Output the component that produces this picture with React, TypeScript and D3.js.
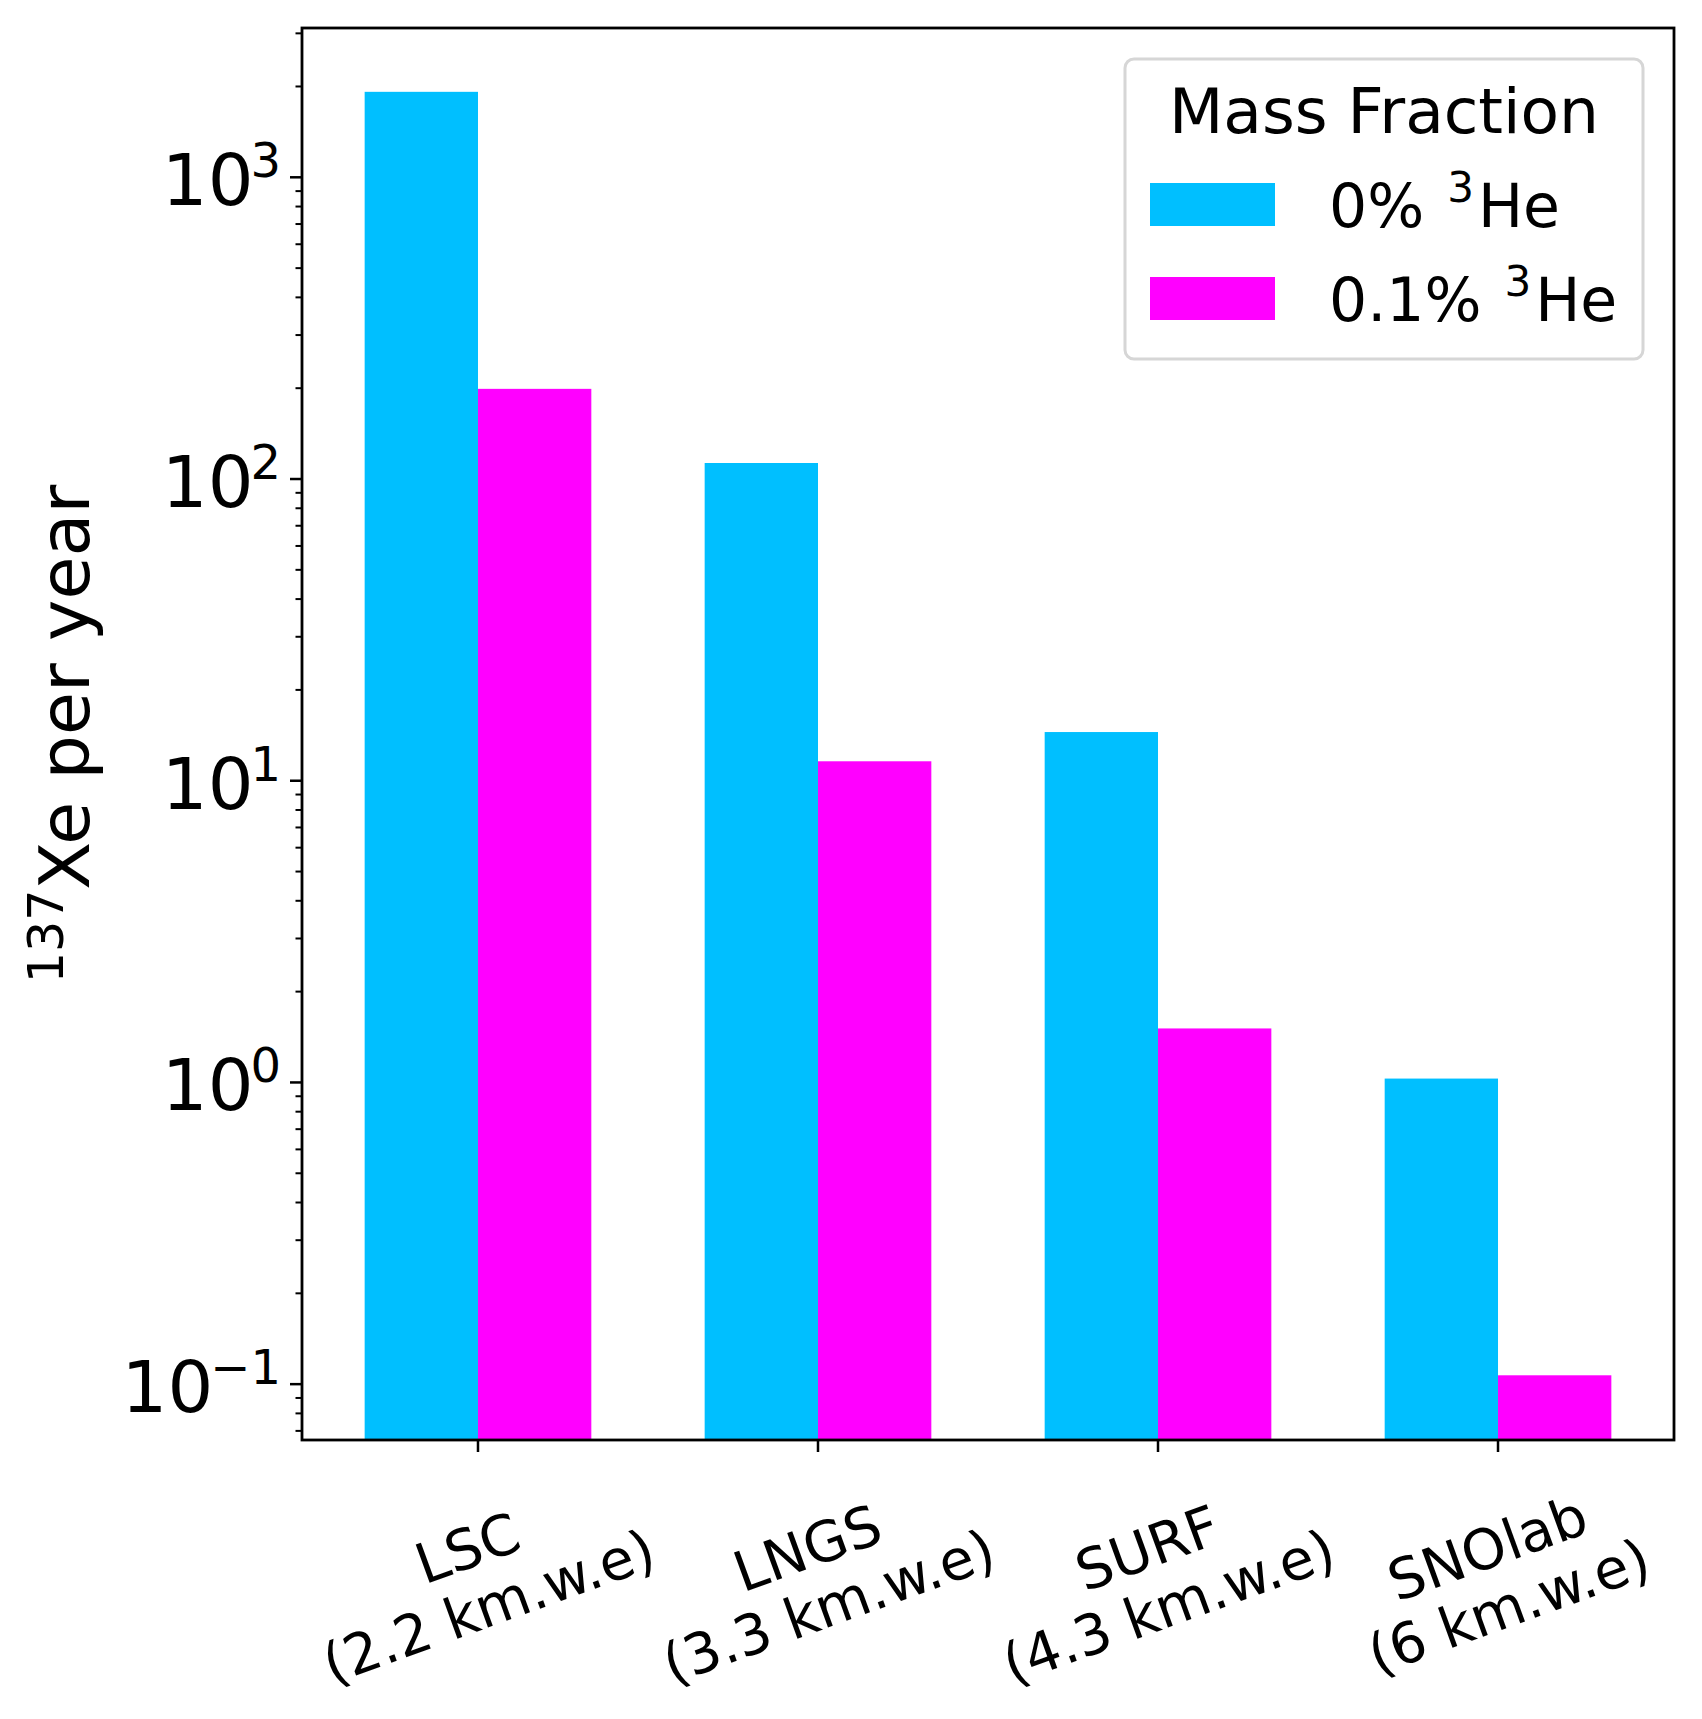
import React, { useEffect, useMemo } from 'react'
import * as d3 from 'd3'

// sites and their depths (tick labels)
const sites = ['LSC', 'LNGS', 'SURF', 'SNOlab']
const depths = ['(2.2 km.w.e)', '(3.3 km.w.e)', '(4.3 km.w.e)', '(6 km.w.e)']

// 137Xe per year
const noHe3 = [1920, 113, 14.5, 1.03]
const withHe3 = [199, 11.6, 1.51, 0.107]

const seriesNames = ['0%', '0.1%']
const seriesColors = ['#00bfff', '#ff00ff']
const majorExponents = [-1, 0, 1, 2, 3]

const W = 1702
const H = 1719
const FONT = 'DejaVu Sans'

const App: React.FC = () => {
  useEffect(() => {
    document.body.style.margin = '0'
  }, [])

  const x = useMemo(() => d3.scaleLinear().domain([-0.5176, 3.5176]).range([302, 1674]), [])
  const y = useMemo(() => d3.scaleLog().domain([0.0653, 3125]).range([1440, 28]), [])
  const barW = x(1 / 3) - x(0)

  const minorTicks = y.ticks().filter(v => Math.abs(Math.log10(v) - Math.round(Math.log10(v))) > 1e-6)
  const series = [noHe3, withHe3]

  return (
    <svg width={W} height={H} style={{ display: 'block', background: '#fff' }} fontFamily={FONT}>
      {/* bars */}
      {series.map((vals, s) =>
        vals.map((v, i) => (
          <rect
            key={`${s}-${i}`}
            x={s === 0 ? x(i) - barW : x(i)}
            y={y(v)}
            width={barW}
            height={y.range()[0] - y(v)}
            fill={seriesColors[s]}
          />
        ))
      )}

      {/* y minor ticks */}
      {minorTicks.map(v => (
        <line key={`m${v}`} x1={302} x2={295.5} y1={y(v)} y2={y(v)} stroke="#000" strokeWidth={2} />
      ))}
      {/* y major ticks + labels */}
      {majorExponents.map(e => {
        const yy = y(Math.pow(10, e))
        return (
          <g key={`M${e}`}>
            <line x1={302} x2={290} y1={yy} y2={yy} stroke="#000" strokeWidth={2.5} />
            <text x={281} y={yy + 28} textAnchor="end" fontSize={72}>
              <tspan>10</tspan>
              <tspan fontSize={48} dx={-3} dy={-28}>
                {e < 0 ? `\u2212${-e}` : `${e}`}
              </tspan>
            </text>
          </g>
        )
      })}

      {/* x ticks + rotated labels */}
      {sites.map((name, i) => (
        <g key={name}>
          <line x1={x(i)} x2={x(i)} y1={1440} y2={1452} stroke="#000" strokeWidth={2.5} />
          <g transform={`translate(${x(i)},1577) rotate(-20)`}>
            <text textAnchor="middle" fontSize={56}>
              <tspan x={0} y={-11}>{name}</tspan>
              <tspan x={0} y={51}>{depths[i]}</tspan>
            </text>
          </g>
        </g>
      ))}

      {/* frame */}
      <rect x={302} y={28} width={1674 - 302} height={1440 - 28} fill="none" stroke="#000" strokeWidth={2.8} />

      {/* y axis label */}
      <text transform="translate(89,734) rotate(-90)" textAnchor="middle" fontSize={70}>
        <tspan fontSize={49} dy={-26}>137</tspan>
        <tspan dy={26}>Xe per year</tspan>
      </text>

      {/* legend */}
      <rect x={1125} y={59} width={518} height={300} rx={9} fill="#fff" fillOpacity={0.8} stroke="#d6d6d6" strokeWidth={3} />
      <text x={1384} y={133} textAnchor="middle" fontSize={63}>
        Mass Fraction
      </text>
      {seriesNames.map((nm, s) => {
        const top = 183 + s * 94
        return (
          <g key={nm}>
            <rect x={1150} y={top} width={125} height={43} fill={seriesColors[s]} />
            <text x={1329} y={top + 44} fontSize={60}>
              {`${nm} `}
              <tspan fontSize={42} dx={4} dy={-25}>3</tspan>
              <tspan dx={4} dy={25}>He</tspan>
            </text>
          </g>
        )
      })}
    </svg>
  )
}

export default App
